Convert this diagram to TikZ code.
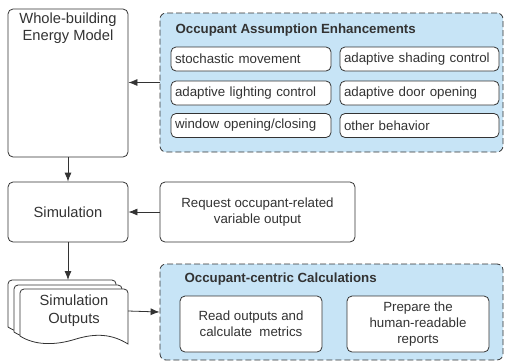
\documentclass[tikz,border=0pt]{standalone}
\usepackage{fontspec}
\setmainfont{Liberation Sans}
\usetikzlibrary{arrows.meta}
\definecolor{panelblue}{RGB}{199,228,246}
\definecolor{inkgray}{RGB}{51,51,51}
\begin{document}
\begin{tikzpicture}[x=1pt,y=-1pt,
	box/.style={
		shape=rectangle,
		rounded corners=5pt,
		draw=inkgray,
		line width=0.8pt,
		fill=white,
		text=inkgray,
		align=center,
		font=\fontsize{14.7}{17}\selectfont},
	smallbox/.style={
		box,
		font=\fontsize{13.3}{16}\selectfont},
	itembox/.style={
		smallbox,
		minimum height=24pt,
		text width=152pt,
		inner xsep=4pt,
		align=left},
	panel/.style={
		shape=rectangle,
		rounded corners=6pt,
		draw=inkgray,
		line width=0.8pt,
		dash pattern=on 6pt off 3pt,
		fill=panelblue},
	paneltitle/.style={
		anchor=west,
		text=inkgray,
		font=\fontsize{13.3}{16}\selectfont\bfseries},
	arr/.style={
		draw=inkgray,
		line width=0.8pt,
		-{Latex[length=9pt,width=7pt]}}
	]
	\useasboundingbox (0,0) rectangle (505,362);
	
	% model and simulation
	\node[box, minimum width=120pt, minimum height=148pt,
		label={[text=inkgray, align=center, font=\fontsize{14.7}{17}\selectfont, below=1pt]north:{Whole-building\\Energy Model}}] (model) at (68,83) {};
	\node[box, minimum width=120pt, minimum height=60pt] (sim) at (68,212) {Simulation};
	\node[smallbox, minimum width=195pt, minimum height=60pt] (req) at (257.5,212) {Request occupant-related\\variable output};
	
	% occupant assumption enhancements
	\node[panel, minimum width=343pt, minimum height=139pt] (enh) at (331.5,82.5) {};
	\node[paneltitle] (enhtitle) at (172,30) {Occupant Assumption Enhancements};
	\node[itembox] (stoch) at (251,59) {stochastic movement};
	\node[itembox, text width=151pt] (shade) at (419.5,59) {adaptive shading control};
	\node[itembox] (light) at (251,93) {adaptive lighting control};
	\node[itembox, text width=151pt] (door) at (419.5,93) {adaptive door opening};
	\node[itembox] (window) at (251,125.5) {window opening/closing};
	\node[itembox, text width=151pt] (other) at (419.5,125.5) {other behavior};
	
	% stacked output documents
	\foreach \dx/\dy in {8/280, 14/285, 20/289}
		\draw[draw=inkgray, line width=0.8pt, fill=white, shift={(\dx,\dy)}]
			[rounded corners=4pt] (0,47) -- (0,0) -- (108,0) [sharp corners] -- (108,55)
			.. controls (92,45) and (76,44) .. (56,50)
			.. controls (34,57) and (14,56) .. (0,47) -- cycle;
	\coordinate (stacktop) at (68,280);
	\node[text=inkgray, align=center, font=\fontsize{14.7}{18}\selectfont, minimum width=108pt] (outs) at (74,311) {Simulation\\Outputs};
	
	% occupant-centric calculations
	\node[panel, minimum width=343pt, minimum height=96pt] (calc) at (331.5,312) {};
	\node[paneltitle] (calctitle) at (181,279) {Occupant-centric Calculations};
	\node[smallbox, minimum width=142pt, minimum height=56pt] (read) at (251,324) {Read outputs and\\calculate~ metrics};
	\node[smallbox, minimum width=142pt, minimum height=56pt] (prep) at (418,324) {Prepare the\\human-readable\\reports};
	
	% connectors
	\draw[arr] (enh.west) -- (enh.west -| model.east);
	\draw[arr] (model.south) -- (sim.north);
	\draw[arr] (req.west) -- (sim.east);
	\draw[arr] (sim.south) -- (stacktop);
	\draw[arr] (outs.east) -- (calc.west);
\end{tikzpicture}
\end{document}
